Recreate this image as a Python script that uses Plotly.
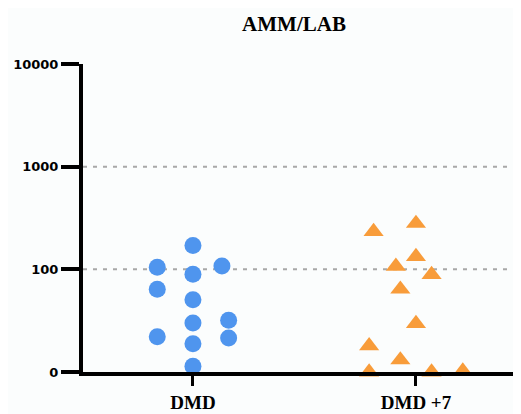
import plotly.graph_objects as go

# ---- data ----
groups = ["DMD", "DMD +7"]
group_pos = [0, 1]

dmd_values = [171, 105, 108, 89.5, 64, 50.5, 30, 32, 22, 18.8, 21.4, 11.4]
dmd_jitter = [0.0, -0.16, 0.13, 0.0, -0.16, 0.0, 0.0, 0.16, -0.16, 0.0, 0.16, 0.0]

dmd7_values = [233, 280, 133, 107, 89, 64, 29.6, 18, 13.1, 10, 10, 10.2]
dmd7_jitter = [-0.19, 0.0, 0.0, -0.09, 0.07, -0.07, 0.0, -0.21, -0.07, -0.21, 0.07, 0.21]

y_tickvals = [10, 100, 1000, 10000]
y_ticktext = ["0", "100", "1000", "10000"]
grid_values = [100, 1000]

title_text = "AMM/LAB"

# ---- figure ----
fig = go.Figure()

fig.add_trace(go.Scatter(
    x=[group_pos[0] + d for d in dmd_jitter], y=dmd_values,
    mode="markers", cliponaxis=False, showlegend=False,
    marker=dict(symbol="circle", size=17, color="#4f95ee", line=dict(width=0)),
))
fig.add_trace(go.Scatter(
    x=[group_pos[1] + d for d in dmd7_jitter], y=dmd7_values,
    mode="markers", cliponaxis=False, showlegend=False,
    marker=dict(symbol="triangle-up", size=17.5, color="#f89c3a", line=dict(width=0)),
))

for gv in grid_values:
    fig.add_shape(type="line", xref="paper", yref="y", x0=0, x1=1, y0=gv, y1=gv,
                  line=dict(color="#a8a8a8", width=2, dash="4px,6px"), layer="below")

fig.update_layout(
    width=513, height=406,
    margin=dict(l=75, r=0, t=56, b=42),
    paper_bgcolor="#fbfdfd", plot_bgcolor="#fbfdfd",
    title=dict(text=title_text, x=0.5575, xanchor="center", y=0.961, yanchor="middle",
               font=dict(family="Liberation Serif, Times New Roman, serif", size=21,
                         color="black", weight="bold")),
)

fig.update_xaxes(
    range=[-0.493, 1.471], tickvals=group_pos, ticktext=groups,
    showgrid=False, zeroline=False,
    showline=True, linecolor="black", linewidth=4,
    ticks="outside", ticklen=10, tickwidth=3, tickcolor="black",
    tickfont=dict(family="Liberation Serif, Times New Roman, serif", size=19,
                  color="black", weight="bold"),
)
fig.update_yaxes(
    type="log", range=[1, 4], tickvals=y_tickvals, ticktext=y_ticktext,
    showgrid=False, zeroline=False,
    showline=True, linecolor="black", linewidth=4,
    ticks="outside", ticklen=18, tickwidth=4, tickcolor="black",
    tickfont=dict(family="DejaVu Sans, Liberation Sans, sans-serif", size=13,
                  color="black", weight="bold"),
)

fig.write_html("out.html")
